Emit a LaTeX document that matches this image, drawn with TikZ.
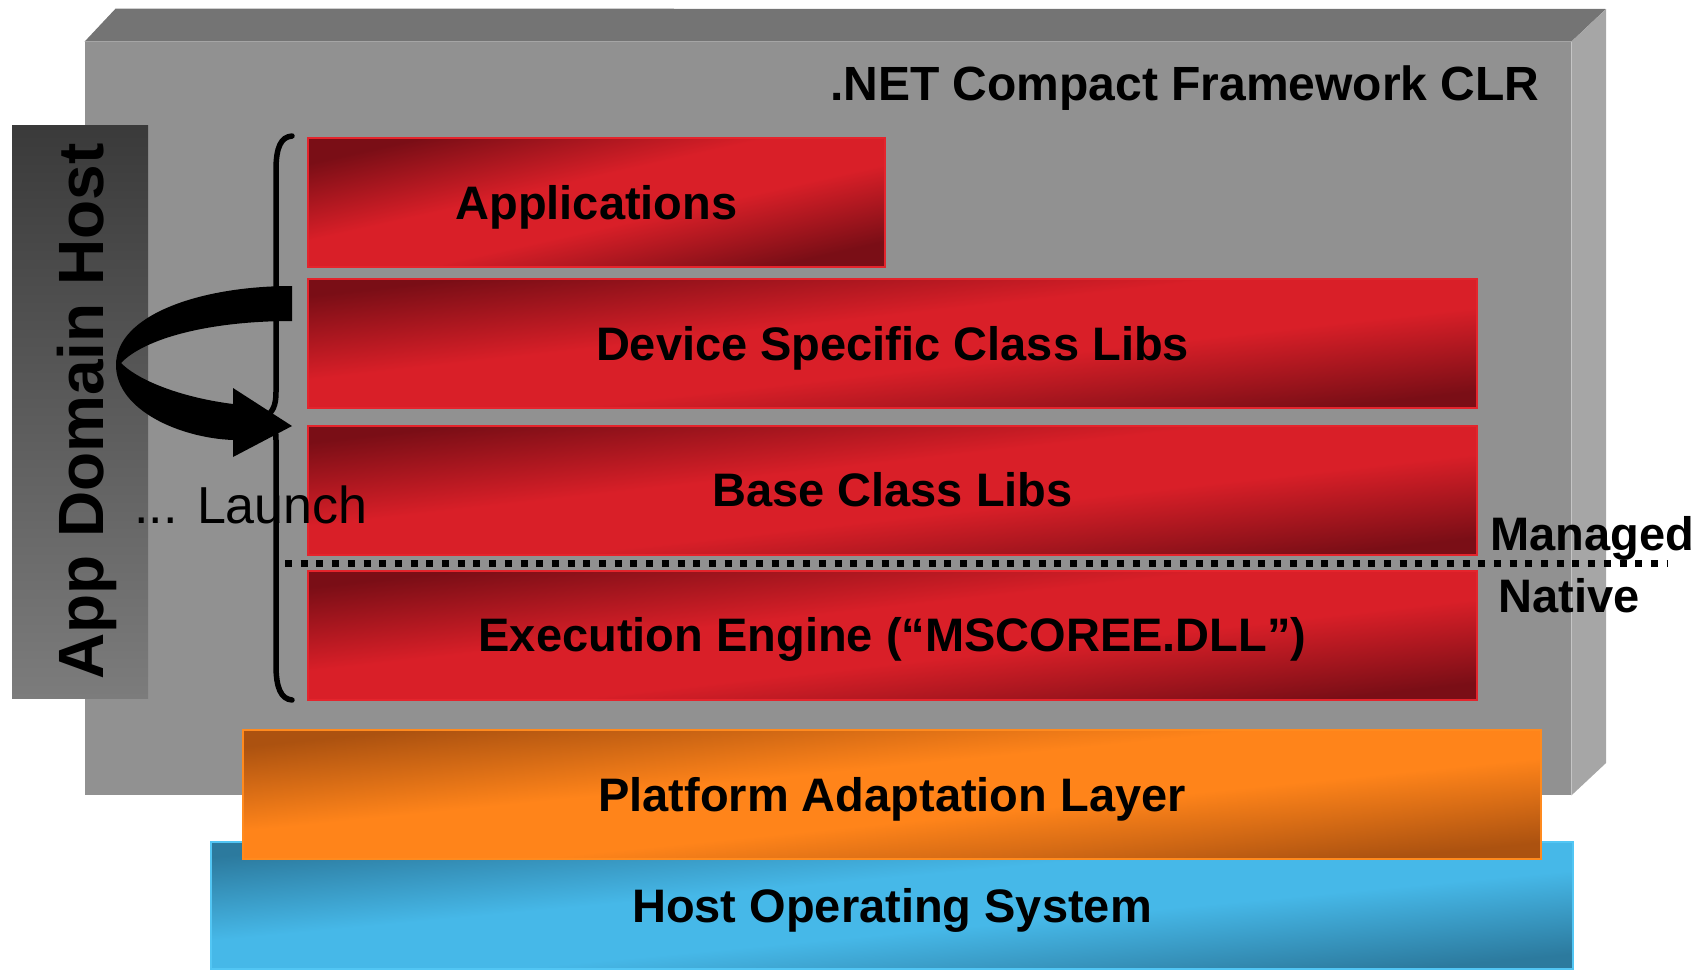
\documentclass[tikz,border=0pt]{standalone}
\usepackage{fontspec}
\setmainfont{Liberation Sans}
\definecolor{gfront}{RGB}{145,145,145}
\definecolor{gtop}{RGB}{116,116,116}
\definecolor{gside}{RGB}{166,166,166}
\definecolor{rdark}{RGB}{122,14,22}
\definecolor{rbright}{RGB}{217,31,40}
\definecolor{redge}{RGB}{228,36,44}
\definecolor{odark}{RGB}{172,82,16}
\definecolor{obright}{RGB}{255,132,26}
\definecolor{oedge}{RGB}{255,138,30}
\definecolor{bdark}{RGB}{44,122,158}
\definecolor{bbright}{RGB}{70,184,232}
\definecolor{bedge}{RGB}{82,198,244}
\definecolor{adhtop}{RGB}{58,58,58}
\definecolor{adhbot}{RGB}{124,124,124}
\pgfdeclareverticalshading{redbar}{100bp}{color(0bp)=(rdark); color(26bp)=(rdark); color(44bp)=(rbright); color(56bp)=(rbright); color(74bp)=(rdark); color(100bp)=(rdark)}
\pgfdeclareverticalshading{orgbar}{100bp}{color(0bp)=(odark); color(26bp)=(odark); color(44bp)=(obright); color(56bp)=(obright); color(74bp)=(odark); color(100bp)=(odark)}
\pgfdeclareverticalshading{bluebar}{100bp}{color(0bp)=(bdark); color(26bp)=(bdark); color(44bp)=(bbright); color(56bp)=(bbright); color(74bp)=(bdark); color(100bp)=(bdark)}
\tikzset{
  layerbox/.style={inner sep=0pt, line width=1pt,
    font=\bfseries\fontsize{23.5}{28}\selectfont, text height=16.8pt, text depth=0pt,
    text=black, minimum height=64.5pt},
  redbox/.style={layerbox, draw=redge, shading=redbar},
  orgbox/.style={layerbox, draw=oedge, shading=orgbar},
  bluebox/.style={layerbox, draw=bedge, shading=bluebar},
  sidelabel/.style={inner sep=0pt, font=\bfseries\fontsize{23.5}{28}\selectfont, text=black},
  titlelabel/.style={inner sep=0pt, font=\bfseries\fontsize{24}{29}\selectfont, text=black},
  launchlabel/.style={inner sep=0pt, font=\fontsize{26}{31}\selectfont, text=black},
  bracepath/.style={line width=2.75pt, draw=black, line cap=round},
  dotline/.style={line width=3.5pt, draw=black, dash pattern=on 3.5pt off 4.35pt}
}
\begin{document}
\begin{tikzpicture}[x=0.5pt,y=-0.5pt]
\useasboundingbox (0,0) rectangle (1700,969);
% CLR block
\node[fill=gfront, inner sep=0pt, minimum width=743pt, minimum height=376.5pt] (clr) at (828,418.5) {};
\fill[gtop] (clr.north west) -- ++(31,-33) -- (1606,9) -- (clr.north east) -- cycle;
\fill[gside] (clr.north east) -- (1606,9) -- (1606,763) -- (clr.south east) -- cycle;
\node[titlelabel, anchor=base east] (ttl) at (1540,100) {.NET Compact Framework CLR};
% App domain host
\node[inner sep=0pt, top color=adhtop, bottom color=adhbot, minimum width=68pt, minimum height=286.5pt,
      font=\bfseries\fontsize{32}{38}\selectfont, text=black] (adh) at (80,411.5)
      {\rotatebox{90}{\raisebox{0pt}[23pt][0pt]{App Domain Host}}};
% layers
\node[redbox, shading angle=12.6, minimum width=288.5pt] (apps) at (596.5,202.5) {Applications};
\node[redbox, shading angle=6.3, minimum width=584.5pt] (dev) at (892.5,343.5) {Device Specific Class Libs};
\node[redbox, shading angle=6.3, minimum width=584.5pt] (bcl) at (892.5,490) {Base Class Libs};
\node[redbox, shading angle=6.3, minimum width=584.5pt] (ee) at (892.5,635) {Execution Engine (“MSCOREE.DLL”)};
\node[bluebox, shading angle=5.3, minimum width=681pt, minimum height=63.5pt] (hos) at (892,905.5) {Host Operating System};
\node[orgbox, shading angle=5.7, minimum width=649pt] (pal) at (892,794.5) {Platform Adaptation Layer};
% brace
\coordinate (bt) at (292,136);
\coordinate (bb) at (292,700);
\draw[bracepath] (bt) .. controls (281,137) and (276,147) .. (276,170) -- (276,392)
  .. controls (276,405) and (273,412) .. (266,416) .. controls (273,420) and (276,427) .. (276,440)
  -- (276,665) .. controls (276,688) and (281,699) .. (bb);
% launch arrow
\fill[black] (292,286) .. controls (200,286) and (116,315) .. (116,365)
  .. controls (116,410) and (180,438) .. (233,440) -- (233,457) -- (292,426) -- (233,388) -- (233,404)
  .. controls (185,398) and (140,382) .. (121,363)
  .. controls (145,338) and (210,321) .. (292,321) -- cycle;
\node[launchlabel, anchor=base west] (lch) at (134,523) {... Launch};
% managed / native divider
\coordinate (dl1) at (285,563);
\coordinate (dl2) at (1668,563);
\draw[dotline] (dl1) -- (dl2);
\node[sidelabel, anchor=base west] (mng) at (1490,550) {Managed};
\node[sidelabel, anchor=base west] (ntv) at (1498,612) {Native};
\end{tikzpicture}
\end{document}
